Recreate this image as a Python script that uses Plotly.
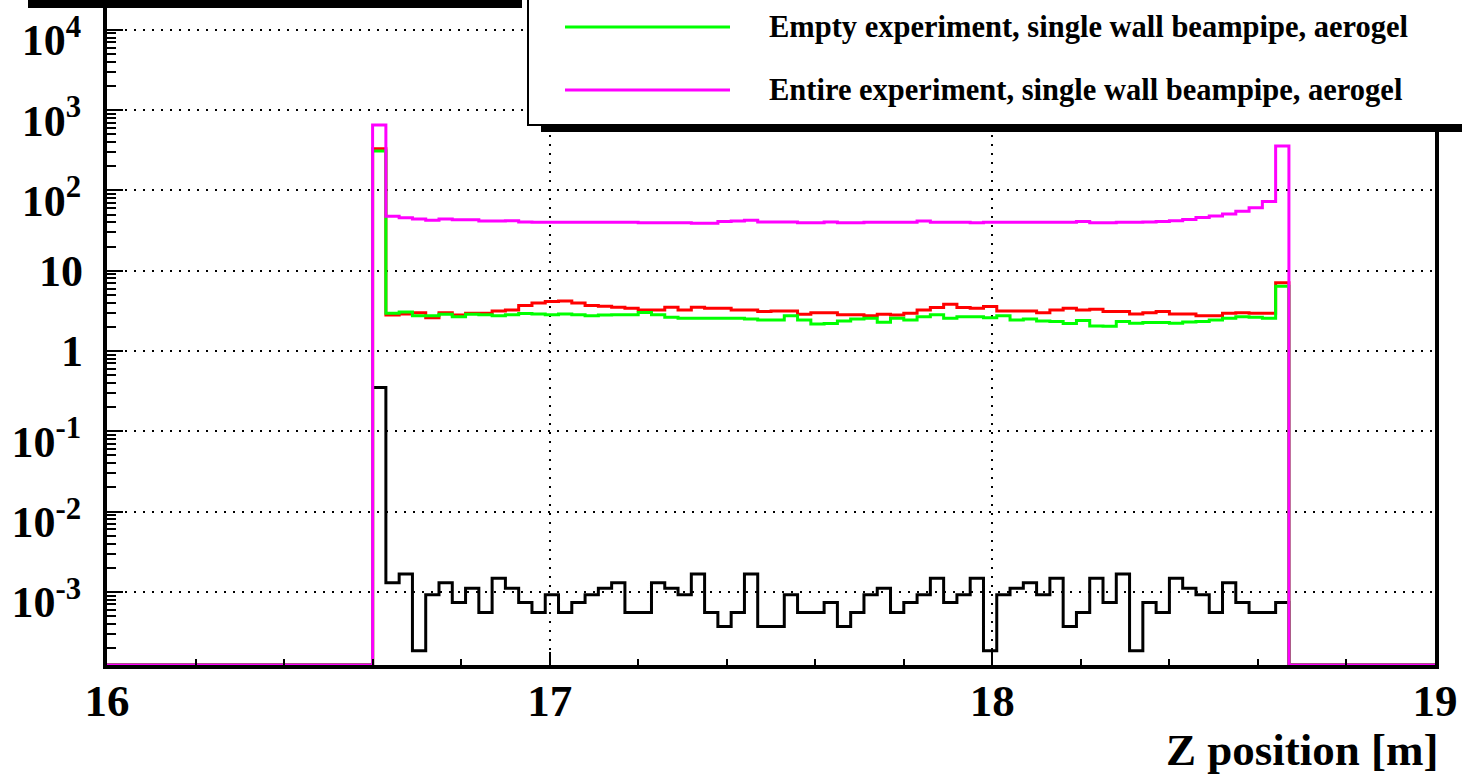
import numpy as np
import plotly.graph_objects as go

# ----------------------------------------------------------------------
# histogram binning: 100 bins between 16 and 19 m, filled from bin 20 on
# ----------------------------------------------------------------------
z_min, z_max, n_bins = 16.0, 19.0, 100
first_bin = 20

# bin contents, bin 20 (z = 16.60 m) ... bin 88 (z = 18.67 m); other bins are empty
h_black = [0.35, 0.0013, 0.00167, 0.000185, 0.000925, 0.0013, 0.00074, 0.00111, 0.000555, 0.00148,
           0.00111, 0.00074, 0.000555, 0.000925, 0.000555, 0.00074, 0.000925, 0.00111, 0.0013, 0.000555,
           0.000555, 0.0013, 0.00111, 0.000925, 0.00167, 0.000555, 0.00037, 0.000555, 0.00167, 0.00037,
           0.00037, 0.000925, 0.000555, 0.000555, 0.00074, 0.00037, 0.000555, 0.000925, 0.00111, 0.000555,
           0.00074, 0.000925, 0.00148, 0.00074, 0.000925, 0.00148, 0.000185, 0.000925, 0.00111, 0.0013,
           0.000925, 0.00148, 0.00037, 0.000555, 0.00148, 0.00074, 0.00167, 0.000185, 0.00074, 0.000555,
           0.00148, 0.00111, 0.000925, 0.000555, 0.0013, 0.00074, 0.000555, 0.000555, 0.00074]

h_red = [330, 2.8, 2.9, 3.0, 2.6, 3.0, 2.8, 2.95, 2.95, 3.15,
         3.25, 3.7, 3.95, 4.15, 4.2, 3.95, 3.7, 3.6, 3.5, 3.4,
         3.25, 3.25, 3.5, 3.25, 3.5, 3.4, 3.4, 3.25, 3.25, 3.1,
         3.15, 3.15, 2.87, 3.0, 3.0, 2.82, 2.82, 2.74, 2.87, 2.8,
         2.96, 3.25, 3.48, 3.83, 3.48, 3.4, 3.58, 3.16, 3.16, 3.16,
         3.0, 3.25, 3.4, 3.25, 3.3, 3.1, 3.1, 2.9, 3.0, 3.1,
         2.9, 2.9, 2.74, 2.74, 2.96, 3.0, 2.96, 2.96, 7.1]

h_green = [310, 2.96, 3.07, 2.74, 2.74, 2.87, 2.68, 2.87, 2.82, 2.74,
           2.82, 2.93, 2.9, 2.82, 2.9, 2.82, 2.74, 2.8, 2.82, 2.82,
           3.01, 2.82, 2.63, 2.56, 2.56, 2.56, 2.56, 2.56, 2.5, 2.44,
           2.44, 2.74, 2.44, 2.17, 2.2, 2.37, 2.5, 2.56, 2.28, 2.56,
           2.44, 2.68, 2.82, 2.56, 2.68, 2.68, 2.6, 2.74, 2.44, 2.5,
           2.37, 2.33, 2.2, 2.4, 2.05, 2.03, 2.33, 2.22, 2.27, 2.27,
           2.22, 2.3, 2.33, 2.44, 2.56, 2.68, 2.63, 2.56, 6.4]

h_magenta = [650, 47.5, 45.5, 44, 42.5, 44, 43, 43, 41.5, 41.5,
             42, 40.5, 40, 40, 40, 40, 40, 40, 40, 40,
             39.5, 39.5, 39.5, 39.5, 39, 39, 41, 41.5, 42.5, 40.5,
             40.5, 40.5, 39.5, 39.5, 40.5, 39.5, 39.5, 40, 40, 40,
             40, 41.5, 40, 40, 40, 39.5, 40, 40, 40, 40,
             40, 40, 40, 41, 39.5, 39.5, 40, 40, 40.5, 41,
             42, 43.5, 46, 48, 51, 55, 61, 73, 357]

legend_labels = ["Empty experiment, single wall beampipe, aerogel",
                 "Entire experiment, single wall beampipe, aerogel"]
legend_colors = ["#00ff00", "#ff00ff"]

# decade labels; the plain ones ("1", "10") sit on their tick, the powers a bit lower (ROOT style)
y_pow_vals = [1e-3, 1e-2, 1e-1, 100, 1e3, 1e4]
y_pow_text = ["10<sup>-3</sup>", "10<sup>-2</sup>", "10<sup>-1</sup>",
              "10<sup>2</sup>", "10<sup>3</sup>", "10<sup>4</sup>"]
y_plain_vals = [1, 10]
y_plain_text = ["1", "10"]
x_title = "Z position [m]"

#-----------------------------------------------------------------------
W, H = 1462, 775
m_l, m_r, m_t, m_b = 107, 27, 0, 110
ylog_lo, ylog_hi = -3.91, 4.371
floor = 10 ** ylog_lo          # empty bins are drawn on the bottom of the frame

def px(X):   # pixel -> paper x
   return (X - m_l) / (W - m_l - m_r)

def py(Y):   # pixel -> paper y
   return (H - m_b - Y) / (H - m_t - m_b)

edges = np.linspace(z_min, z_max, n_bins + 1)

def step_y(vals):
   full = np.zeros(n_bins)
   full[first_bin:first_bin + len(vals)] = vals
   full = np.where(full > 0, full, floor)
   return np.append(full, full[-1])

font_b = "Liberation Serif"
tick_font = dict(family = font_b, size = 44, weight = "bold", color = "black")
grid_style = dict(showgrid = True, gridcolor = "black", gridwidth = 2, griddash = "2px,7px")

fig = go.Figure()

# magenta is drawn last (on top) and lives on the overlaying axis y2
for vals, col, ax in [(h_black, "black", "y"), (h_red, "#ff0000", "y"),
                      (h_green, "#00ff00", "y"), (h_magenta, "#ff00ff", "y2")]:
   fig.add_trace(go.Scatter(x = edges, y = step_y(vals), mode = "lines", line_shape = "hv",
                            line = dict(color = col, width = 3), cliponaxis = False, yaxis = ax,
                            showlegend = False, hoverinfo = "skip"))

minor_y = [m * 10.0 ** d for d in range(-4, 5) for m in range(2, 10)
           if ylog_lo <= np.log10(m * 10.0 ** d) <= ylog_hi]

fig.update_xaxes(range = [z_min, z_max], dtick = 1, tick0 = 16,
                 ticks = "inside", ticklen = 13, tickwidth = 2, tickcolor = "black",
                 showline = True, linewidth = 4, linecolor = "black", mirror = True,
                 zeroline = False, ticklabelstandoff = -7, **grid_style,
                 tickfont = dict(family = font_b, size = 45, weight = "bold", color = "black"),
                 minor = dict(dtick = 0.2, ticks = "inside", ticklen = 6, tickwidth = 2,
                              tickcolor = "black", showgrid = False))

fig.update_layout(
   yaxis = dict(type = "log", range = [ylog_lo, ylog_hi],
                tickmode = "array", tickvals = y_pow_vals, ticktext = y_pow_text,
                ticks = "inside", ticklen = 16, tickwidth = 2, tickcolor = "black",
                showline = True, linewidth = 4, linecolor = "black", mirror = True,
                zeroline = False, ticklabelstandoff = 13, ticklabelshift = 10,
                tickfont = tick_font, **grid_style,
                minor = dict(tickmode = "array", tickvals = minor_y, ticks = "inside", ticklen = 9,
                             tickwidth = 2, tickcolor = "black", showgrid = False)),
   yaxis2 = dict(type = "log", range = [ylog_lo, ylog_hi], overlaying = "y", side = "left",
                 tickmode = "array", tickvals = y_plain_vals, ticktext = y_plain_text,
                 ticks = "inside", ticklen = 16, tickwidth = 2, tickcolor = "black",
                 showline = False, zeroline = False, **grid_style,
                 ticklabelstandoff = 23, tickfont = tick_font))

shapes = []
# shadow of the box above the frame (top left)
shapes.append(dict(type = "rect", xref = "paper", yref = "paper", layer = "above",
                   x0 = px(28), x1 = px(522), y0 = py(8), y1 = py(-20),
                   fillcolor = "black", line = dict(width = 0)))
# legend box + shadow
shapes.append(dict(type = "rect", xref = "paper", yref = "paper", layer = "above",
                   x0 = px(541), x1 = px(1480), y0 = py(132), y1 = py(-20),
                   fillcolor = "black", line = dict(width = 0)))
shapes.append(dict(type = "rect", xref = "paper", yref = "paper", layer = "above",
                   x0 = px(528), x1 = px(1480), y0 = py(125), y1 = py(-30),
                   fillcolor = "white", line = dict(color = "black", width = 2)))

annotations = []
for i, (lab, col) in enumerate(zip(legend_labels, legend_colors)):
   yl = 27 + 63 * i
   shapes.append(dict(type = "line", xref = "paper", yref = "paper", layer = "above",
                      x0 = px(565), x1 = px(730), y0 = py(yl), y1 = py(yl),
                      line = dict(color = col, width = 3)))
   annotations.append(dict(text = lab, xref = "paper", yref = "paper", x = px(767), y = py(yl),
                           xanchor = "left", yanchor = "middle", showarrow = False,
                           font = dict(family = font_b, size = 30.5, weight = "bold", color = "black")))

annotations.append(dict(text = x_title, xref = "paper", yref = "paper", x = px(1441), y = py(750),
                        xanchor = "right", yanchor = "middle", showarrow = False,
                        font = dict(family = font_b, size = 45, weight = "bold", color = "black")))

fig.update_layout(width = W, height = H, margin = dict(l = m_l, r = m_r, t = m_t, b = m_b, autoexpand = False),
                  paper_bgcolor = "white", plot_bgcolor = "white",
                  shapes = shapes, annotations = annotations, showlegend = False)

# the page's default 8px body margin would shift the whole figure
fig.write_html("out.html", config = {"displayModeBar": False},
               post_script = "document.body.style.margin = '0';")
